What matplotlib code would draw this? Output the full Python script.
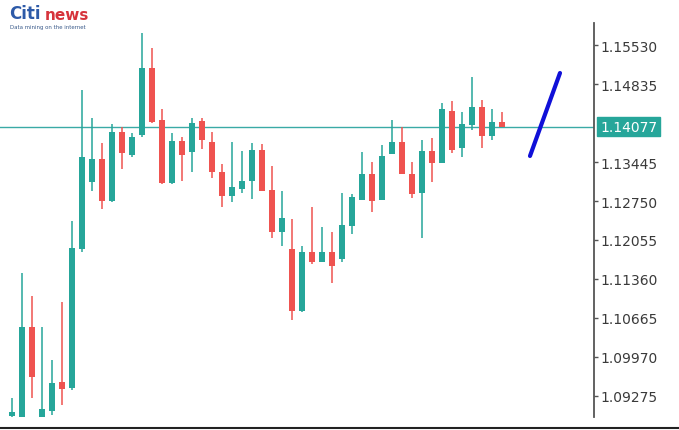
import matplotlib
matplotlib.use("Agg")
import matplotlib.pyplot as plt
from matplotlib.lines import Line2D
import numpy as np

# EUR/USD style candles
opens = [1.08919, 1.08850, 1.10505, 1.08905, 1.09008, 1.09525, 1.09418, 1.11895, 1.13089, 1.13499,
         1.12750, 1.13980, 1.13570, 1.13926, 1.15120, 1.14194, 1.13071, 1.13819, 1.13623, 1.14176,
         1.13802, 1.13267, 1.12839, 1.12964, 1.13107, 1.13659, 1.12946, 1.12198, 1.11895, 1.10790,
         1.11841, 1.11663, 1.11841, 1.11717, 1.12305, 1.12768, 1.13231, 1.12768, 1.13588, 1.13802,
         1.13231, 1.12893, 1.13641, 1.13427, 1.14354, 1.13695, 1.14105, 1.14425, 1.13909, 1.14158]
highs = [1.09239, 1.11467, 1.11057, 1.10505, 1.09917, 1.10950, 1.12394, 1.14728, 1.14229, 1.13784,
         1.14122, 1.14069, 1.13962, 1.15744, 1.15477, 1.14390, 1.13962, 1.13891, 1.14229, 1.14229,
         1.13980, 1.13410, 1.13802, 1.13641, 1.13784, 1.13766, 1.13374, 1.12928, 1.12429, 1.11948,
         1.12643, 1.12287, 1.12198, 1.12893, 1.12875, 1.13623, 1.13445, 1.13748, 1.14194, 1.14069,
         1.13445, 1.13837, 1.13873, 1.14497, 1.14532, 1.14336, 1.14960, 1.14550, 1.14390, 1.14336]
lows = [1.08850, 1.08800, 1.09239, 1.08850, 1.08937, 1.09115, 1.09382, 1.11841, 1.12928, 1.12608,
        1.12732, 1.13320, 1.13534, 1.13891, 1.14140, 1.13060, 1.13060, 1.13107, 1.13267, 1.13677,
        1.13160, 1.12643, 1.12732, 1.12893, 1.12786, 1.12920, 1.12091, 1.11948, 1.10630, 1.10780,
        1.11627, 1.11655, 1.11289, 1.11663, 1.12162, 1.12760, 1.12554, 1.12760, 1.13580, 1.13225,
        1.12804, 1.12091, 1.13089, 1.13420, 1.13606, 1.13534, 1.14015, 1.13695, 1.13837, 1.14060]
closes = [1.08990, 1.10505, 1.09614, 1.09043, 1.09507, 1.09400, 1.11913, 1.13534, 1.13499, 1.12750,
          1.13980, 1.13606, 1.13891, 1.15120, 1.14158, 1.13071, 1.13819, 1.13570, 1.14140, 1.13837,
          1.13267, 1.12839, 1.13000, 1.13107, 1.13659, 1.12928, 1.12198, 1.12447, 1.10790, 1.11841,
          1.11663, 1.11841, 1.11592, 1.12322, 1.12821, 1.13231, 1.12750, 1.13552, 1.13802, 1.13231,
          1.12875, 1.13641, 1.13427, 1.14390, 1.13659, 1.14122, 1.14425, 1.13909, 1.14158, 1.14077]

current_price = 1.14077
tick_values = [1.15530, 1.14835, 1.13445, 1.12750, 1.12055, 1.11360, 1.10665, 1.09970, 1.09275]

# hand-drawn blue stroke on the right
stroke_x = [51.8, 54.8]
stroke_y = [1.13552, 1.15031]

up_color = "#26a69a"
down_color = "#ef5350"

fig = plt.figure(figsize=(6.79, 4.31), dpi=100)
ax = fig.add_axes([0, 0.0302, 0.8748, 0.9141])

x = np.arange(len(opens))
o = np.array(opens)
c = np.array(closes)
colors = [up_color if cc >= oo else down_color for oo, cc in zip(o, c)]

ax.vlines(x, lows, highs, colors=colors, linewidth=1.1, zorder=2)
body_h = np.maximum(np.abs(c - o), 0.00012)
ax.bar(x, body_h, bottom=np.minimum(o, c), width=0.6, color=colors, zorder=3)

ax.axhline(current_price, color="#3aaaa6", linewidth=1.0, zorder=1)
ax.plot(stroke_x, stroke_y, color="#1010d8", linewidth=3, solid_capstyle="round", zorder=4)

ax.set_xlim(-1.2, 58.2)
ax.set_ylim(1.08901, 1.15922)

for side in ["left", "top", "bottom"]:
    ax.spines[side].set_visible(False)
ax.spines["right"].set_color("#555555")
ax.spines["right"].set_linewidth(1.3)
ax.set_xticks([])
ax.yaxis.tick_right()
ax.set_yticks(tick_values)
ax.set_yticklabels([f"{v:.5f}" for v in tick_values])
ax.tick_params(axis="y", direction="out", length=3, width=1, color="#555555",
               labelsize=10, labelcolor="#3a3a3a", pad=2)

ax.annotate(f"{current_price:.5f}", xy=(1.0, current_price), xycoords=("axes fraction", "data"),
            xytext=(6, 0), textcoords="offset pixels", ha="left", va="center",
            fontsize=10, color="white",
            bbox=dict(boxstyle="square,pad=0.2", fc=up_color, ec=up_color))

# logo
fig.text(0.014, 0.946, "Citi", color="#2d5aa8", fontsize=12, fontweight="bold", ha="left", va="bottom")
fig.text(0.066, 0.946, "news", color="#d6333b", fontsize=11, fontweight="bold", ha="left", va="bottom")
fig.text(0.015, 0.931, "Data mining on the internet", color="#3a5a8a", fontsize=3.9, ha="left", va="bottom")

# bottom frame line
fig.add_artist(Line2D([0, 1], [0.005, 0.005], color="#222222", linewidth=1.5, transform=fig.transFigure))

fig.savefig("out.png", dpi=100)
